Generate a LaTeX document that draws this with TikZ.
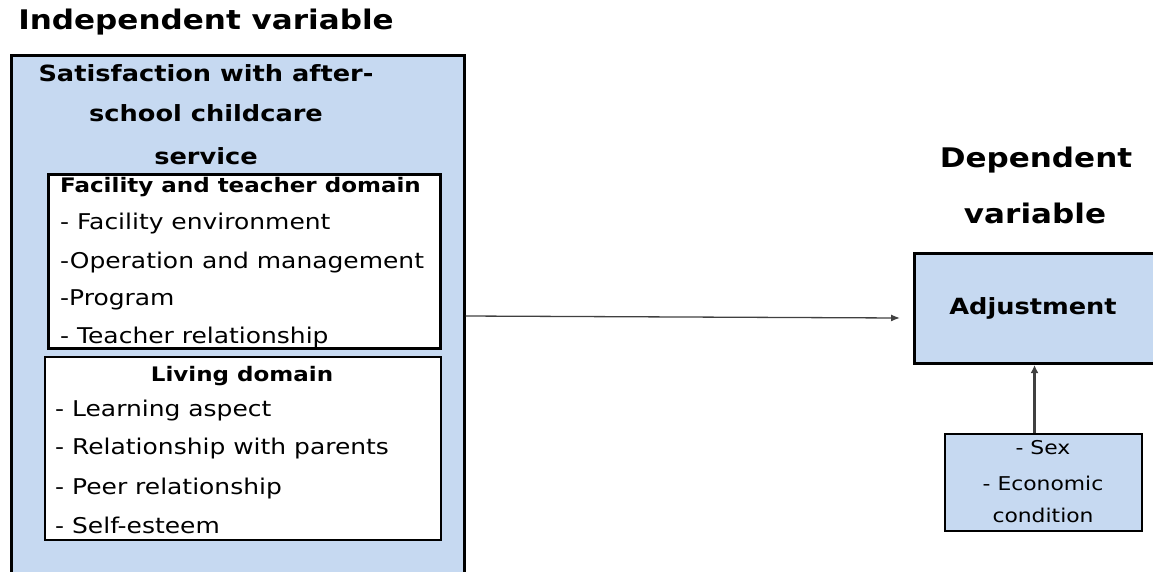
\documentclass[tikz,border=0pt]{standalone}
\usepackage{fontspec}
\setmainfont{DejaVu Sans}[FakeStretch=1.15]
\usetikzlibrary{arrows.meta}
\definecolor{boxblue}{RGB}{198,217,241}
\definecolor{arrowgray}{RGB}{64,64,64}
\tikzset{
  bluebox/.style={draw=black, fill=boxblue, line width=2.5pt, inner sep=0pt, anchor=north west},
  whitebox/.style={draw=black, fill=white, line width=2pt, inner sep=0pt, anchor=north west},
  heading/.style={font=\fontsize{27}{31}\selectfont\bfseries, inner sep=0pt},
  subhead/.style={font=\fontsize{22.3}{26}\selectfont\bfseries, inner sep=0pt},
  domainhead/.style={font=\fontsize{20}{24}\selectfont\bfseries, inner sep=0pt},
  item/.style={font=\fontsize{21.7}{25}\selectfont, inner sep=0pt, anchor=west},
  small/.style={font=\fontsize{19}{22}\selectfont, inner sep=0pt},
  link/.style={-{Latex[length=9pt,width=7pt]}, line width=1.3pt, draw=arrowgray},
  thicklink/.style={-{Latex[length=8pt,width=8pt]}, line width=3pt, draw=arrowgray}
}
\begin{document}
\begin{tikzpicture}[x=1pt,y=-1pt]
\useasboundingbox (0,0) rectangle (1153,571);
\clip (0,0) rectangle (1153,571);
% titles
\node[heading] (indep) at (206,22) {Independent variable};
\node[heading] (dep1) at (1036,160) {Dependent};
\node[heading] (dep2) at (1035,213) {variable};
% outer box
\node[bluebox, minimum width=453pt, minimum height=540pt] (outer) at (10,54) {};
\node[subhead] (sat1) at (206,73) {Satisfaction with after-};
\node[subhead] (sat2) at (206,113) {school childcare};
\node[subhead] (sat3) at (206,156) {service};
% box 1
\node[whitebox, minimum width=391pt, minimum height=173pt] (box1) at (48,174) {};
\begin{scope}
\clip (box1.south west) rectangle (box1.north east);
\node[domainhead, anchor=west] (fhead) at (60,187) {Facility and teacher domain};
\node[item] (f1) at (60,224) {- Facility environment};
\node[item] (f2) at (60,263) {-Operation and management};
\node[item] (f3) at (60,300) {-Program};
\node[item] (f4) at (60,338) {- Teacher relationship};
\end{scope}
\draw[line width=2pt] (box1.south west) rectangle (box1.north east);
% box 2
\node[whitebox, minimum width=396pt, minimum height=183pt] (box2) at (44,356) {};
\node[domainhead] (lhead) at (242,376) {Living domain};
\node[item] (l1) at (55,411) {- Learning aspect};
\node[item] (l2) at (55,449) {- Relationship with parents};
\node[item] (l3) at (55,489) {- Peer relationship};
\node[item] (l4) at (55,525) {- Self-esteem};
% dependent
\node[bluebox, line width=3pt, minimum width=260pt, minimum height=110pt] (adj) at (913,252) {};
\node[subhead] (adjtxt) at (1033,308) {Adjustment};
% control
\node[bluebox, line width=2pt, minimum width=197pt, minimum height=97pt] (ctrl) at (944,433) {};
\node[small] (c1) at (1043,448) {- Sex};
\node[small] (c2) at (1043,483) {- Economic};
\node[small] (c3) at (1043,515) {condition};
% connectors
\coordinate (a1) at (900,318);
\draw[link] (outer.east |- 0,316) -- (a1);
\draw[thicklink] ([xshift=-9pt]ctrl.north) -- ([xshift=-9pt]ctrl.north |- adj.south);
\end{tikzpicture}
\end{document}
